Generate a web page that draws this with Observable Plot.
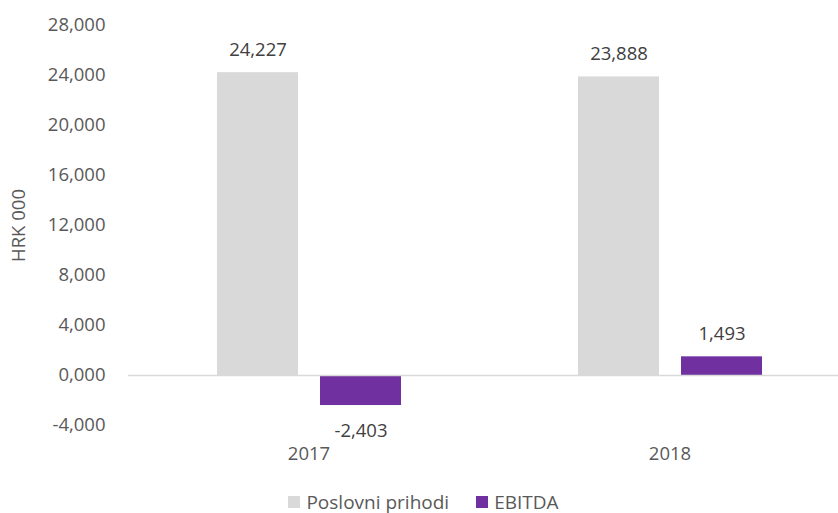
<!DOCTYPE html>
<html><head><meta charset="utf-8">
<script src="https://cdn.jsdelivr.net/npm/d3@7"></script>
<script src="https://cdn.jsdelivr.net/npm/@observablehq/plot@0.6"></script>
<style>
body{margin:0;background:#fff;font-family:"Open Sans",sans-serif;}
#chart{width:838px;height:485px;overflow:hidden;}
#chart svg{display:block;}
#legend{width:838px;height:34px;display:flex;align-items:center;justify-content:center;padding-left:36px;box-sizing:border-box;}
#legend .lg-swatches{min-height:0;margin:0;font-family:"Open Sans",sans-serif;font-size:19px;line-height:1.1;color:#595959;}
#legend .lg-swatch{margin-right:27px;line-height:1.1;}
#legend .lg-swatch svg{margin-right:6px;}
</style></head><body><div id="chart"></div><div id="legend"></div><script>
const years = ["2017", "2018"];
const series = ["Poslovni prihodi", "EBITDA"];
const poslovniPrihodi = [24227, 23888];
const ebitda = [-2403, 1493];
const colors = ["#d9d9d9", "#7030a0"];
const yTicks = [-4000, 0, 4000, 8000, 12000, 16000, 20000, 24000, 28000];
const yTickLabels = ["-4,000", "0,000", "4,000", "8,000", "12,000", "16,000", "20,000", "24,000", "28,000"];
const yLabel = "HRK 000";

const data = years.flatMap((year, i) => [
  {year, series: series[0], value: poslovniPrihodi[i]},
  {year, series: series[1], value: ebitda[i]}
]);
const fmt = v => v.toLocaleString("en-US");

const plot = Plot.plot({
  width: 838,
  height: 485,
  marginLeft: 128,
  marginRight: -12,
  marginTop: 25,
  marginBottom: 60,
  style: {fontFamily: "Open Sans", fontSize: "18.5px", color: "#595959", background: "#fff", overflow: "hidden"},
  fx: {domain: years, paddingInner: 0, paddingOuter: 0, label: null, axis: "bottom", tickSize: 0, tickPadding: 21},
  x: {domain: series, paddingInner: 0.2136, paddingOuter: 0.859, axis: null},
  y: {
    domain: [-4000, 28000], ticks: yTicks,
    tickFormat: d => yTickLabels[yTicks.indexOf(d)],
    tickSize: 0, tickPadding: 23,
    label: yLabel, labelAnchor: "center", labelArrow: "none", labelOffset: 117
  },
  color: {domain: series, range: colors},
  marks: [
    Plot.barY(data, {fx: "year", x: "series", y: "value", fill: "series"}),
    Plot.ruleY([0], {stroke: "#d9d9d9", strokeWidth: 1.5}),
    Plot.text(data.filter(d => d.value >= 0), {fx: "year", x: "series", y: "value", text: d => fmt(d.value), dy: -23, lineAnchor: "middle", fill: "#404040"}),
    Plot.text(data.filter(d => d.value < 0), {fx: "year", x: "series", y: "value", text: d => fmt(d.value), dy: 26, lineAnchor: "middle", fill: "#404040"})
  ]
});
document.getElementById("chart").appendChild(plot);

const legend = Plot.legend({
  color: {domain: series, range: colors},
  swatchSize: 12,
  className: "lg"
});
document.getElementById("legend").appendChild(legend);
</script></body></html>
